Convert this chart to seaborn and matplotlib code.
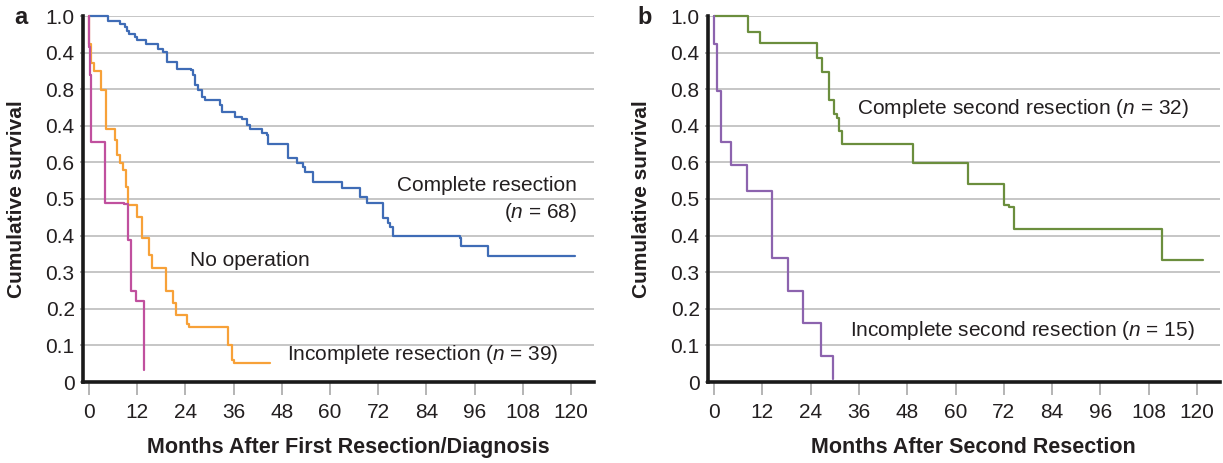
import pandas as pd
import seaborn as sns
import matplotlib.pyplot as plt

# Panel a: survival after first resection / diagnosis
complete_t = [0, 4.8, 7.8, 9.0, 9.4, 10.0, 11.4, 11.9, 14.3, 17.2, 18.5, 19.3, 21.8, 25.5,
              26.0, 26.4, 27.2, 28.0, 28.9, 32.6, 33.0, 36.3, 38.0, 39.2, 40.0, 43.0, 44.2,
              44.6, 49.6, 51.7, 53.3, 53.7, 55.8, 62.9, 67.4, 69.1, 73.2, 74.5, 74.9, 75.7,
              92.3, 92.7, 99.3, 120.9]
complete_s = [1.0, 0.986, 0.977, 0.970, 0.959, 0.950, 0.943, 0.934, 0.924, 0.911, 0.902, 0.874,
              0.856, 0.852, 0.838, 0.811, 0.797, 0.779, 0.770, 0.756, 0.738, 0.724, 0.719, 0.701,
              0.692, 0.679, 0.674, 0.651, 0.611, 0.598, 0.588, 0.575, 0.547, 0.529, 0.506, 0.488,
              0.447, 0.434, 0.424, 0.399, 0.393, 0.372, 0.344, 0.344]

incomplete_t = [0, 0.1, 0.4, 1.2, 2.9, 4.2, 6.5, 7.0, 7.7, 8.4, 9.2, 9.8, 11.9, 13.1, 15.0,
                15.8, 19.1, 21.0, 21.6, 24.5, 24.9, 34.7, 35.6, 36.2, 45.0]
incomplete_s = [1.0, 0.924, 0.872, 0.849, 0.797, 0.692, 0.660, 0.619, 0.597, 0.578, 0.533,
                0.483, 0.451, 0.393, 0.347, 0.311, 0.250, 0.215, 0.183, 0.158, 0.150, 0.101,
                0.060, 0.053, 0.053]

noop_t = [0, 0.1, 0.3, 0.5, 4.0, 8.7, 9.8, 10.4, 11.6, 13.7]
noop_s = [1.0, 0.915, 0.838, 0.656, 0.490, 0.485, 0.388, 0.250, 0.222, 0.033]

# Panel b: survival after second resection
second_c_t = [0, 8.5, 11.4, 25.5, 26.7, 28.6, 29.9, 30.6, 31.1, 31.7, 49.4, 63.0, 72.1,
              73.4, 74.4, 111.4, 121.4]
second_c_s = [1.0, 0.957, 0.927, 0.886, 0.848, 0.770, 0.731, 0.722, 0.686, 0.649, 0.597,
              0.540, 0.484, 0.479, 0.419, 0.333, 0.333]

second_i_t = [0, 0.05, 0.8, 1.8, 4.1, 8.1, 14.3, 18.3, 22.1, 26.5, 29.6]
second_i_s = [1.0, 0.924, 0.795, 0.657, 0.592, 0.521, 0.340, 0.250, 0.162, 0.071, 0.007]

x_ticks = [0, 12, 24, 36, 48, 60, 72, 84, 96, 108, 120]
y_ticks = [0, 0.1, 0.2, 0.3, 0.4, 0.5, 0.6, 0.7, 0.8, 0.9, 1.0]
y_labels = ['0', '0.1', '0.2', '0.3', '0.4', '0.5', '0.6', '0.4', '0.8', '0.4', '1.0']

sns.set_theme(style='white')
plt.rcParams['font.family'] = ['Liberation Sans', 'DejaVu Sans']
plt.rcParams['mathtext.fontset'] = 'custom'
plt.rcParams['mathtext.it'] = 'Liberation Sans:italic'
plt.rcParams['mathtext.rm'] = 'Liberation Sans'

txt = '#231f20'


def curves(groups):
    frames = []
    for name, t, s in groups:
        frames.append(pd.DataFrame({'month': t, 'survival': s, 'group': name}))
    return pd.concat(frames, ignore_index=True)


df_a = curves([('Complete resection', complete_t, complete_s),
               ('Incomplete resection', incomplete_t, incomplete_s),
               ('No operation', noop_t, noop_s)])
df_b = curves([('Complete second resection', second_c_t, second_c_s),
               ('Incomplete second resection', second_i_t, second_i_s)])

pal_a = {'Complete resection': '#3f6cb6', 'Incomplete resection': '#f7a138',
         'No operation': '#c0509e'}
pal_b = {'Complete second resection': '#6b8e3d', 'Incomplete second resection': '#8c63ae'}

fig = plt.figure(figsize=(12.23, 4.63), dpi=100)
W, H = 1223, 463
ax_a = fig.add_axes([83 / W, 1 - 382 / H, (594 - 83) / W, 366 / H])
ax_b = fig.add_axes([708 / W, 1 - 382 / H, (1220 - 708) / W, 366 / H])

for ax, df, pal, xlabel in [(ax_a, df_a, pal_a, 'Months After First Resection/Diagnosis'),
                            (ax_b, df_b, pal_b, 'Months After Second Resection')]:
    sns.lineplot(data=df, x='month', y='survival', hue='group', palette=pal,
                 drawstyle='steps-post', linewidth=1.6, legend=False, ax=ax,
                 estimator=None, clip_on=False, zorder=3)
    ax.set_xlim(-1.5, 125.7)
    ax.set_ylim(0, 1.0)
    ax.set_xticks(x_ticks)
    ax.set_yticks(y_ticks)
    ax.set_yticklabels(y_labels)
    ax.yaxis.grid(True, color='#bcbcbc', linewidth=1.2)
    ax.set_axisbelow(True)
    for side in ['top', 'right']:
        ax.spines[side].set_visible(False)
    for side in ['left', 'bottom']:
        ax.spines[side].set_color('#1a1a1a')
        ax.spines[side].set_linewidth(2.6)
        ax.spines[side].set_zorder(4)
    ax.tick_params(axis='x', direction='out', length=9, width=1.2, color='#a8a8a8',
                   pad=6, labelsize=15, labelcolor=txt, bottom=True)
    ax.tick_params(axis='y', direction='out', length=2, width=1.2, color='#a8a8a8',
                   pad=4, labelsize=15, labelcolor=txt, left=True)
    ax.set_xlabel(xlabel, fontsize=15.5, fontweight='bold', color=txt)
    ax.set_ylabel('Cumulative survival', fontsize=15, fontweight='bold', color=txt)
    ax.xaxis.set_label_coords(0.519, -0.150)
    ax.yaxis.set_label_coords(-0.112, 0.5)

ax_a.text(121.4, 0.536, 'Complete resection', ha='right', va='center', fontsize=15, color=txt)
ax_a.text(121.4, 0.462, '($n$ = 68)', ha='right', va='center', fontsize=15, color=txt)
ax_a.text(25.1, 0.333, 'No operation', ha='left', va='center', fontsize=15, color=txt)
ax_a.text(49.3, 0.075, 'Incomplete resection ($n$ = 39)', ha='left', va='center',
          fontsize=15, color=txt)
ax_b.text(35.5, 0.747, 'Complete second resection ($n$ = 32)', ha='left', va='center',
          fontsize=15, color=txt)
ax_b.text(33.8, 0.142, 'Incomplete second resection ($n$ = 15)', ha='left', va='center',
          fontsize=15, color=txt)

fig.text(21 / W, 1 - 17 / H, 'a', ha='center', va='center', fontsize=17,
         fontweight='bold', color=txt)
fig.text(645 / W, 1 - 17 / H, 'b', ha='center', va='center', fontsize=17,
         fontweight='bold', color=txt)

fig.savefig('out.png', dpi=100)
